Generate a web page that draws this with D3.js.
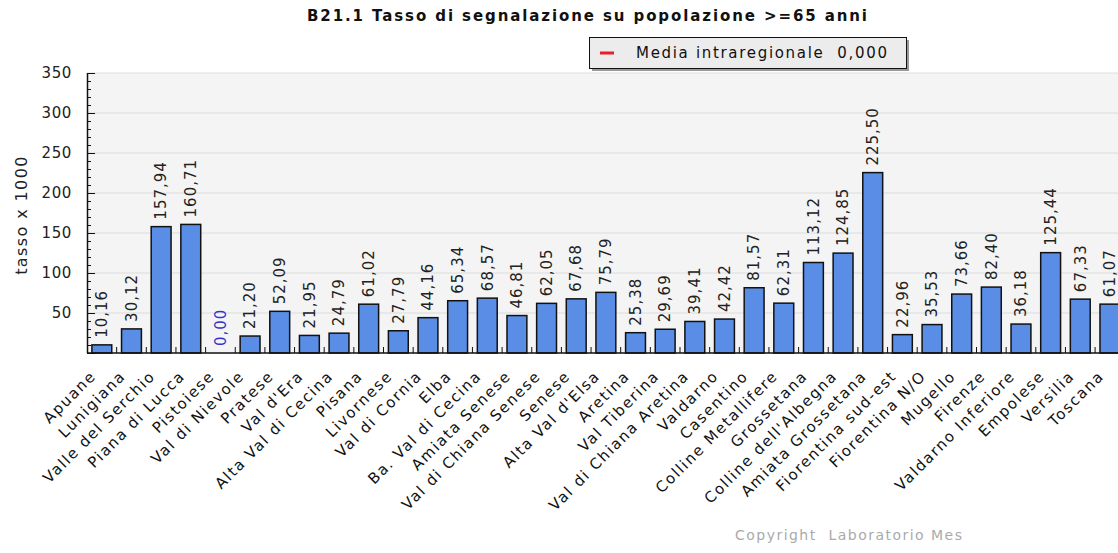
<!DOCTYPE html>
<html>
<head>
<meta charset="utf-8">
<script src="https://cdn.jsdelivr.net/npm/d3@7/dist/d3.min.js"></script>
<style>
  html, body { margin: 0; padding: 0; background: #ffffff; overflow: hidden; }
  svg { display: block; font-family: "DejaVu Sans", Verdana, sans-serif; }
</style>
</head>
<body>
<svg id="chart" width="1118" height="553"></svg>
<script>
const categories = ["Apuane","Lunigiana","Valle del Serchio","Piana di Lucca","Pistoiese","Val di Nievole","Pratese","Val d'Era","Alta Val di Cecina","Pisana","Livornese","Val di Cornia","Elba","Ba. Val di Cecina","Amiata Senese","Val di Chiana Senese","Senese","Alta Val d'Elsa","Aretina","Val Tiberina","Val di Chiana Aretina","Valdarno","Casentino","Colline Metallifere","Grossetana","Colline dell'Albegna","Amiata Grossetana","Fiorentina sud-est","Fiorentina N/O","Mugello","Firenze","Valdarno Inferiore","Empolese","Versilia","Toscana"];
const values = [10.16,30.12,157.94,160.71,0.00,21.20,52.09,21.95,24.79,61.02,27.79,44.16,65.34,68.57,46.81,62.05,67.68,75.79,25.38,29.69,39.41,42.42,81.57,62.31,113.12,124.85,225.50,22.96,35.53,73.66,82.40,36.18,125.44,67.33,61.07];
const yTicks = [50,100,150,200,250,300,350];
const yMinorTicks = d3.range(0, 351, 10);
const title = "B21.1 Tasso di segnalazione su popolazione >=65 anni";
const yTitle = "tasso x 1000";
const legendLabel = "Media intraregionale  0,000";
const copyright = "Copyright  Laboratorio Mes";

const fmt = v => v.toFixed(2).replace(".", ",");

const svg = d3.select("#chart");
const pLeft = 87, pTop = 73, pBottom = 353;
const step = 29.65;
const pRight = pLeft + step * categories.length;

const x = d3.scaleBand().domain(categories).range([pLeft, pRight]).paddingInner(0.33).paddingOuter(0.165);
const y = d3.scaleLinear().domain([0, 350]).range([pBottom, pTop]);

// plot background
svg.append("rect").attr("x", pLeft).attr("y", pTop).attr("width", pRight - pLeft).attr("height", pBottom - pTop).attr("fill", "#f4f4f4");

// grid
svg.append("g").selectAll("line").data(yTicks).join("line")
  .attr("x1", pLeft).attr("x2", pRight).attr("y1", d => y(d)).attr("y2", d => y(d))
  .attr("stroke", "#dcdcdc").attr("stroke-width", 1);

// bars
svg.append("g").selectAll("rect").data(values).join("rect")
  .attr("x", (d, i) => x(categories[i]))
  .attr("y", d => y(d))
  .attr("width", x.bandwidth())
  .attr("height", d => y(0) - y(d))
  .attr("fill", "#5a8ee6").attr("stroke", "#111").attr("stroke-width", 1.5);

// y axis
const yAxis = d3.axisRight(y).tickValues(yMinorTicks).tickSize(4).tickFormat("");
const gy = svg.append("g").attr("transform", `translate(${pLeft},0)`).call(yAxis);
gy.select(".domain").attr("stroke", "#111").attr("stroke-width", 1.5).attr("d", `M0.5,${pTop}V${pBottom}`);
gy.selectAll(".tick line").attr("stroke", "#111").attr("x2", d => d % 50 === 0 ? 8 : 4);
svg.append("g").selectAll("text").data(yTicks).join("text")
  .attr("x", 72).attr("y", d => y(d)).attr("dy", "0.35em").attr("text-anchor", "end")
  .attr("font-size", 15).attr("letter-spacing", 0.6).attr("fill", "#222").text(d => d);

// x axis line & ticks
svg.append("line").attr("x1", pLeft).attr("x2", pRight).attr("y1", pBottom).attr("y2", pBottom).attr("stroke", "#111").attr("stroke-width", 1.5);
const bounds = categories.slice(1).map(c => x(c) - (x.step() - x.bandwidth()) / 2);
svg.append("g").selectAll("line").data(bounds).join("line")
  .attr("x1", d => d).attr("x2", d => d).attr("y1", pBottom).attr("y2", pBottom - 6)
  .attr("stroke", "#111").attr("stroke-width", 1);

// x labels
svg.append("g").selectAll("text").data(categories).join("text")
  .attr("transform", c => `translate(${x(c) + x.bandwidth() / 2 - 5},${pBottom + 24}) rotate(-45)`)
  .attr("text-anchor", "end").attr("font-size", 15).attr("letter-spacing", 1.6).attr("fill", "#111").text(c => c);

// value labels
svg.append("g").selectAll("text").data(values).join("text")
  .attr("transform", (d, i) => `translate(${x(categories[i]) + x.bandwidth() / 2},${y(d) - 7}) rotate(-90)`)
  .attr("dy", "0.35em").attr("font-size", 15).attr("letter-spacing", 1)
  .attr("fill", d => d === 0 ? "#3333cc" : "#222").text(fmt);

// y title
svg.append("text").attr("transform", `translate(21,${(pTop + pBottom) / 2 + 2}) rotate(-90)`)
  .attr("text-anchor", "middle").attr("dy", "0.35em").attr("font-size", 16).attr("letter-spacing", 1.4).attr("fill", "#222").text(yTitle);

// title
svg.append("text").attr("x", 307).attr("y", 21)
  .attr("textLength", 560).attr("lengthAdjust", "spacing")
  .attr("font-size", 15).attr("font-weight", "bold").attr("fill", "#111").text(title);

// legend
const lg = svg.append("g").attr("transform", "translate(589,37)");
lg.append("rect").attr("x", 3).attr("y", 3).attr("width", 317).attr("height", 31).attr("fill", "#999");
lg.append("rect").attr("x", 0.5).attr("y", 0.5).attr("width", 317).attr("height", 31).attr("fill", "#ececec").attr("stroke", "#111");
lg.append("line").attr("x1", 11).attr("x2", 25).attr("y1", 16).attr("y2", 16).attr("stroke", "#e8202a").attr("stroke-width", 3);
lg.append("text").attr("x", 47).attr("y", 16).attr("dy", "0.35em").attr("font-size", 15)
  .style("white-space", "pre").attr("textLength", 251).attr("lengthAdjust", "spacing")
  .attr("fill", "#111").text(legendLabel);

// copyright
svg.append("text").attr("x", 735).attr("y", 540).attr("font-size", 14).attr("fill", "#aaa")
  .style("white-space", "pre").attr("textLength", 227).attr("lengthAdjust", "spacing").text(copyright);
</script>
</body>
</html>
